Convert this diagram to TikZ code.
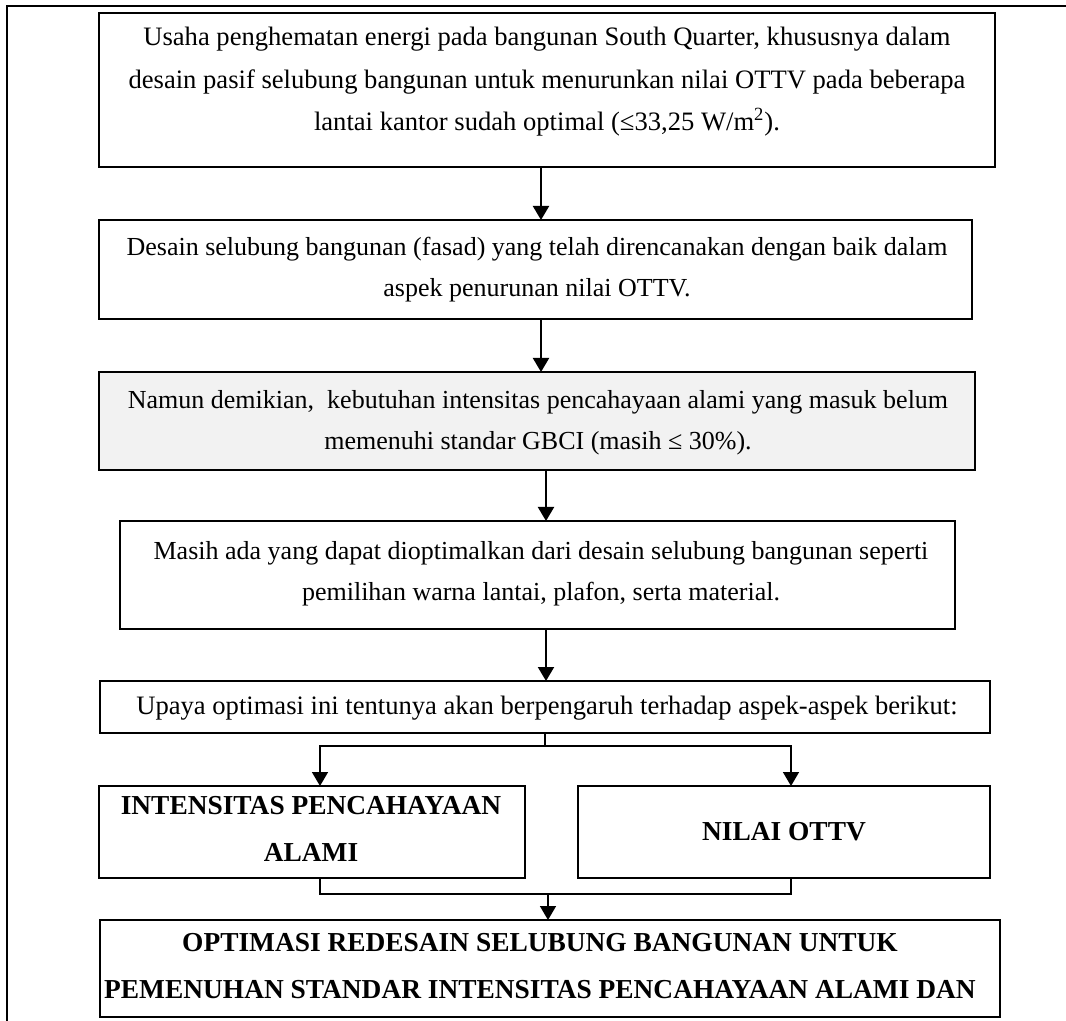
\documentclass[tikz,border=0pt]{standalone}
\usepackage{fontspec}
\setmainfont{Liberation Serif}
\usetikzlibrary{arrows.meta}
\definecolor{boxgray}{HTML}{F2F2F2}
\begin{document}
\begin{tikzpicture}[x=0.5pt,y=-0.5pt,
  box/.style={draw, line width=1pt, inner sep=0pt, outer sep=0pt, anchor=north west},
  txt/.style={inner sep=0pt, align=center, font=\fontsize{13.0}{20.5}\selectfont},
  btxt/.style={inner sep=0pt, align=center, font=\fontsize{13.7}{23.5}\selectfont\bfseries},
  conn/.style={line width=1pt},
  thin/.style={line width=0.8pt},
  arr/.style={line width=1pt, -{Triangle[width=8pt,length=7pt]}},
  tarr/.style={line width=0.8pt, -{Triangle[width=8pt,length=7pt]}}
]
\useasboundingbox (0,0) rectangle (1066,1021);
% outer frame
\draw[line width=0.8pt] (7,1021) -- (7,6) -- (1066,6);

% boxes
\node[box, line width=1.4pt, minimum width=448pt, minimum height=77pt] (b1) at (99,13) {};
\node[txt, font=\fontsize{13.3}{21.2}\selectfont] (t1) at (547,82) {Usaha penghematan energi pada bangunan South Quarter, khususnya dalam\\
desain pasif selubung bangunan untuk menurunkan nilai OTTV pada beberapa\\
lantai kantor sudah optimal (≤33,25 W/m\textsuperscript{2}).};

\node[box, minimum width=436.5pt, minimum height=49.5pt] (b2) at (99,220) {};
\node[txt] (t2) at (537,270) {Desain selubung bangunan (fasad) yang telah direncanakan dengan baik dalam\\
aspek penurunan nilai OTTV.};

\node[box, fill=boxgray, minimum width=438pt, minimum height=49pt] (b3) at (99,372) {};
\node[txt] (t3) at (538,423) {Namun demikian,\ \ kebutuhan intensitas pencahayaan alami yang masuk belum\\
memenuhi standar GBCI (masih ≤ 30\%).};

\node[box, minimum width=417.5pt, minimum height=54pt] (b4) at (120,521) {};
\node[txt] (t4) at (541,574) {Masih ada yang dapat dioptimalkan dari desain selubung bangunan seperti\\
pemilihan warna lantai, plafon, serta material.};

\node[box, minimum width=445pt, minimum height=26pt] (b5) at (100,681) {};
\node[txt, font=\fontsize{13.3}{20.5}\selectfont] (t5) at (547,708) {Upaya optimasi ini tentunya akan berpengaruh terhadap aspek-aspek berikut:};

\node[box, minimum width=213pt, minimum height=46pt] (L) at (99,786) {};
\node[btxt] (tL) at (311,829) {INTENSITAS PENCAHAYAAN\\ALAMI};

\node[box, minimum width=206pt, minimum height=46pt] (R) at (578,786) {};
\node[btxt] (tR) at (784,832) {NILAI OTTV};

\node[box, minimum width=450pt, minimum height=48.5pt] (bb) at (100,920) {};
\node[btxt] (tb) at (540,966) {OPTIMASI REDESAIN SELUBUNG BANGUNAN UNTUK\\
PEMENUHAN STANDAR INTENSITAS PENCAHAYAAN ALAMI DAN};

% connectors
\coordinate (x541) at (541,0);
\coordinate (x546) at (546,0);
\draw[arr] (b1.south -| x541) -- (b2.north -| x541);
\draw[arr] (b2.south -| x541) -- (b3.north -| x541);
\draw[arr] (b3.south -| x546) -- (b4.north -| x546);
\draw[arr] (b4.south -| x546) -- (b5.north -| x546);

\coordinate (sp) at (545,746);
\coordinate (xl) at (320,0);
\coordinate (xr) at (791,0);
\draw[thin] (b5.south -| sp) -- (sp);
\draw[tarr] (sp) -| (L.north -| xl);
\draw[tarr] (sp) -| (R.north -| xr);

\coordinate (mg) at (548,894);
\draw[thin] (L.south -| xl) |- (mg);
\draw[thin] (R.south -| xr) |- (mg);
\draw[tarr] (mg) -- (bb.north -| mg);
\end{tikzpicture}
\end{document}
